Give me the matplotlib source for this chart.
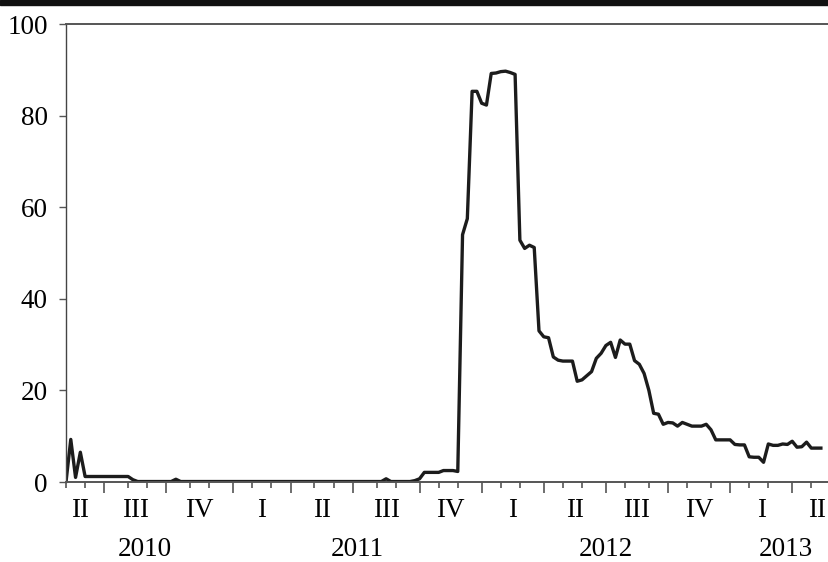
import numpy as np
import pandas as pd
import matplotlib.pyplot as plt
from matplotlib.patches import Rectangle
from matplotlib.transforms import blended_transform_factory

plt.rcParams['font.family'] = ['Liberation Serif', 'DejaVu Serif']

# weekly observations (Fridays), May 2010 - May 2013
start_date = '2010-05-07'
values = [
    0.0, 9.3, 1.0, 6.5, 1.2, 1.2, 1.2, 1.2, 1.2, 1.2,
    1.2, 1.2, 1.2, 1.2, 0.5, 0.1, 0.1, 0.1, 0.1, 0.1,
    0.1, 0.1, 0.1, 0.6, 0.1, 0.1, 0.1, 0.1, 0.1, 0.1,
    0.1, 0.1, 0.1, 0.1, 0.1, 0.1, 0.1, 0.1, 0.1, 0.1,
    0.1, 0.1, 0.1, 0.1, 0.1, 0.1, 0.1, 0.1, 0.1, 0.1,
    0.1, 0.1, 0.1, 0.1, 0.1, 0.1, 0.1, 0.1, 0.1, 0.1,
    0.1, 0.1, 0.1, 0.1, 0.1, 0.1, 0.1, 0.7, 0.1, 0.1,
    0.1, 0.1, 0.1, 0.3, 0.7, 2.1, 2.1, 2.1, 2.1, 2.5,
    2.5, 2.5, 2.3, 54.0, 57.5, 85.3, 85.3, 82.7, 82.3, 89.2,
    89.3, 89.6, 89.7, 89.4, 89.0, 52.8, 51.0, 51.7, 51.2, 33.0,
    31.7, 31.5, 27.3, 26.6, 26.4, 26.4, 26.4, 22.0, 22.3, 23.2,
    24.1, 27.0, 28.1, 29.8, 30.5, 27.2, 31.0, 30.1, 30.1, 26.5,
    25.7, 23.7, 20.0, 15.0, 14.8, 12.6, 13.0, 12.9, 12.2, 13.0,
    12.6, 12.2, 12.2, 12.2, 12.6, 11.4, 9.2, 9.2, 9.2, 9.2,
    8.2, 8.1, 8.1, 5.5, 5.4, 5.4, 4.3, 8.3, 8.0, 8.0,
    8.3, 8.2, 8.9, 7.6, 7.7, 8.7, 7.4, 7.4, 7.4,
]
roman = {1: 'I', 2: 'II', 3: 'III', 4: 'IV'}

dates = pd.date_range(start_date, periods=len(values), freq='W-FRI')
obs = np.arange(len(values))

# first observation of each month / quarter
month_id = dates.year * 12 + dates.month
month_ticks = obs[np.r_[True, month_id[1:] != month_id[:-1]]]
qtr_id = dates.year * 4 + dates.quarter
qtr_ticks = [t for t in month_ticks[1:] if qtr_id[t] != qtr_id[t - 1]]

x_lo, x_hi = -2, 162.5   # span used to centre the partial first/last periods


def centre(idx):
    lo = idx[0] if idx[0] > 0 else x_lo
    hi = idx[-1] + 1 if idx[-1] < obs[-1] else x_hi
    return (lo + hi) / 2


fig = plt.figure(figsize=(8.29, 5.62), dpi=100)
ax = fig.add_axes([66 / 829, 1 - 482 / 562, 1 - 66 / 829, 458 / 562])

ax.plot(obs, values, color='#1c1c1c', lw=2.4, solid_joinstyle='round')

ax.set_xlim(0, 159.7)
ax.set_ylim(0, 100)
ax.set_yticks([0, 20, 40, 60, 80, 100])
ax.tick_params(axis='y', direction='out', length=5, width=1, color='#555555',
               labelsize=19.5, pad=8)

ax.set_xticks(qtr_ticks)
ax.set_xticks(month_ticks, minor=True)
ax.tick_params(axis='x', which='major', direction='out', length=8, width=1.2,
               color='#555555', labelbottom=False)
ax.tick_params(axis='x', which='minor', direction='out', length=4, width=1.2,
               color='#555555')

ax.spines['right'].set_visible(False)
ax.spines['left'].set_color('#444444')
ax.spines['left'].set_linewidth(1.0)
for s in ['top', 'bottom']:
    ax.spines[s].set_color('#555555')
    ax.spines[s].set_linewidth(1.4)

# quarter and year labels under the axis
trans = blended_transform_factory(ax.transData, ax.transAxes)
for q in np.unique(qtr_id):
    idx = obs[qtr_id == q]
    ax.text(centre(idx), -0.063, roman[dates[idx[0]].quarter], transform=trans,
            ha='center', va='center', fontsize=19.5)
for y in np.unique(dates.year):
    idx = obs[dates.year == y]
    ax.text(centre(idx), -0.148, str(y), transform=trans,
            ha='center', va='center', fontsize=19.5)

# thick rule at the top of the picture
fig.patches.append(Rectangle((0, 1 - 5 / 562), 1, 5 / 562,
                             transform=fig.transFigure, color='#111111'))

fig.savefig('out.png', dpi=100)
